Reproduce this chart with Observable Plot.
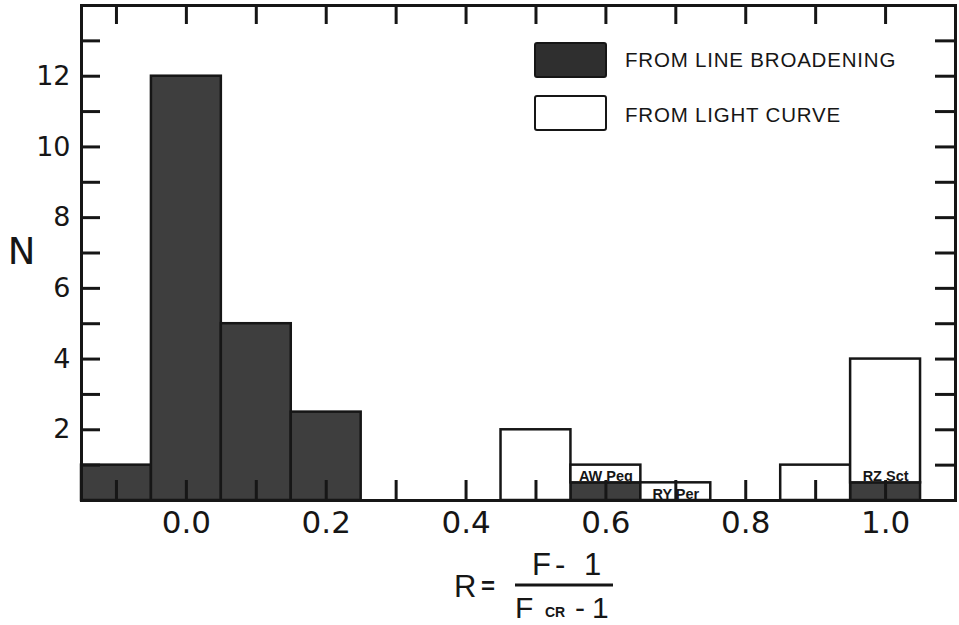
<!DOCTYPE html>
<html>
<head>
<meta charset="utf-8">
<script src="https://cdn.jsdelivr.net/npm/d3@7"></script>
<script src="https://cdn.jsdelivr.net/npm/@observablehq/plot@0.6"></script>
<style>
  body { margin: 0; background: #fff; }
  #wrap { position: relative; width: 959px; height: 625px; overflow: hidden; background: #fff; }
  #wrap > svg { position: absolute; left: 0; top: 0; }
</style>
</head>
<body>
<div id="wrap"></div>
<script>
// ---- data ----
const broadCenters = [-0.1, 0.0, 0.1, 0.2, 0.6, 1.0];   // "from line broadening"
const broadN       = [1, 12, 5, 2.5, 0.5, 0.5];
const lightCenters = [0.5, 0.6, 0.7, 0.9, 1.0];          // "from light curve"
const lightN       = [2, 0.5, 0.5, 1, 3.5];
const starNames    = ["AW Peg", "RY Per", "RZ Sct"];
const starR        = [0.6, 0.7, 1.0];
const binWidth     = 0.1;
const xTickLabels  = [0.0, 0.2, 0.4, 0.6, 0.8, 1.0];
const xTickMarks   = [-0.1, 0.0, 0.1, 0.2, 0.3, 0.4, 0.5, 0.6, 0.7, 0.8, 0.9, 1.0];
const yTickLabels  = [2, 4, 6, 8, 10, 12];
const yTickMarks   = [1, 2, 3, 4, 5, 6, 7, 8, 9, 10, 11, 12, 13];
const legendLabels = ["FROM LINE BROADENING", "FROM LIGHT CURVE"];
const yLabel = "N";

// ---- derived tables ----
const broadBars = broadCenters.map((c, i) => ({x1: c - binWidth / 2, x2: c + binWidth / 2, y1: 0, y2: broadN[i]}));
const baseAt = (c) => { const j = broadCenters.indexOf(c); return j >= 0 ? broadN[j] : 0; };
const lightBars = lightCenters.map((c, i) => ({x1: c - binWidth / 2, x2: c + binWidth / 2, y1: baseAt(c), y2: baseAt(c) + lightN[i]}));
const starLabels = starNames.map((n, i) => ({name: n, x: starR[i], y: baseAt(starR[i])}));

const W = 959, H = 545;
const mL = 81, mR = 4, mT = 5, mB = 45;
const plotW = W - mL - mR, plotH = H - mT - mB;
const ink = "#161616";
const numFont = "DejaVu Sans, sans-serif";
const sans = "Liberation Sans, Arial, sans-serif";

const chart = Plot.plot({
  width: W, height: H,
  marginLeft: mL, marginRight: mR, marginTop: mT, marginBottom: mB,
  x: {domain: [-0.15, 1.1]},
  y: {domain: [0, 14]},
  style: {background: "white", color: ink},
  marks: [
    Plot.rect(broadBars, {x1: "x1", x2: "x2", y1: "y1", y2: "y2", fill: "#3e3e3e", stroke: ink, strokeWidth: 2.5}),
    Plot.rect(lightBars, {x1: "x1", x2: "x2", y1: "y1", y2: "y2", fill: "white", stroke: ink, strokeWidth: 2.5}),
    Plot.text(starLabels, {x: "x", y: "y", text: "name", lineAnchor: "bottom", dy: -2, fontSize: 14.5, fontWeight: "bold", fontFamily: sans, fill: ink}),
    // inward ticks on all four sides
    Plot.tickX(xTickMarks, {x: d => d, insetTop: plotH - 20, stroke: ink, strokeWidth: 3}),
    Plot.tickX(xTickMarks, {x: d => d, insetBottom: plotH - 19, stroke: ink, strokeWidth: 3}),
    Plot.tickY(yTickMarks, {y: d => d, insetRight: plotW - 19, stroke: ink, strokeWidth: 3}),
    Plot.tickY(yTickMarks, {y: d => d, insetLeft: plotW - 20, stroke: ink, strokeWidth: 3}),
    Plot.frame({stroke: ink, strokeWidth: 3}),
    Plot.axisX({ticks: xTickLabels, tickSize: 0, tickPadding: 10, tickFormat: d3.format(".1f"), label: null, fontSize: 31, fontFamily: numFont, fill: ink}),
    Plot.axisY({ticks: yTickLabels, tickSize: 0, tickPadding: 11, label: null, fontSize: 27, fontFamily: numFont, fill: ink}),
    Plot.text([yLabel], {frameAnchor: "left", textAnchor: "middle", dx: -60, dy: -1, fontSize: 37, fontFamily: numFont, fill: ink})
  ]
});
document.getElementById("wrap").appendChild(chart);

// ---- legend and x-axis formula overlay ----
const ov = d3.select("#wrap").append("svg").attr("width", 959).attr("height", 625)
  .style("pointer-events", "none");
ov.append("rect").attr("x", 535).attr("y", 43).attr("width", 71).attr("height", 34).attr("rx", 2)
  .attr("fill", "#2f2f2f").attr("stroke", ink).attr("stroke-width", 2);
ov.append("rect").attr("x", 535).attr("y", 96).attr("width", 71).attr("height", 34).attr("rx", 2)
  .attr("fill", "white").attr("stroke", ink).attr("stroke-width", 2);
ov.selectAll("text.leg").data(legendLabels).join("text").attr("class", "leg")
  .attr("x", 625).attr("y", (d, i) => 67 + i * 54.5)
  .attr("font-family", sans).attr("font-size", 20.5).attr("letter-spacing", 0.8)
  .attr("fill", ink).text(d => d);

// R = (F - 1) / (F_CR - 1)
const t = (x, y, s, size, weight) => ov.append("text").attr("x", x).attr("y", y)
  .attr("font-family", sans).attr("font-size", size).attr("font-weight", weight || "normal")
  .attr("fill", ink).text(s);
t(454, 597, "R", 31);
t(481, 594, "=", 24, "bold");
ov.append("line").attr("x1", 515).attr("x2", 613).attr("y1", 585).attr("y2", 585).attr("stroke", ink).attr("stroke-width", 3);
t(532, 575, "F", 31);
t(555, 575, "-", 31);
t(584, 575, "1", 31);
t(515, 618, "F", 30);
t(545, 617, "CR", 14, "bold");
t(575, 618, "-", 30);
t(592, 618, "1", 30);
</script>
</body>
</html>
